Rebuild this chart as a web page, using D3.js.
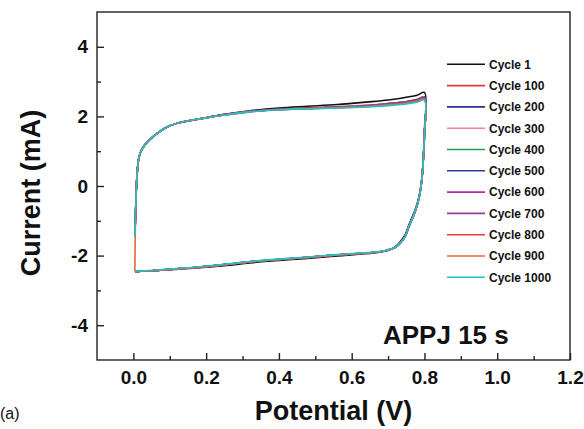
<!DOCTYPE html>
<html><head><meta charset="utf-8">
<script src="https://cdn.jsdelivr.net/npm/d3@7"></script>
<style>
body{margin:0;background:#fff}
svg{display:block}
text{font-family:"Liberation Sans",Arial,sans-serif}
</style>
</head><body>
<svg id="chart" width="584" height="429"></svg>
<script>
// Potential sweep (V), shared by all cycles
const potential = [0.004,0.006,0.008,0.011,0.014,0.019,0.026,0.036,0.050,0.070,0.100,0.140,0.183,
  0.250,0.320,0.400,0.480,0.560,0.640,0.700,0.750,0.780,0.800,
  0.800,0.797,0.793,0.787,0.780,0.772,0.765,0.756,0.747,0.735,0.720,0.700,
  0.678,0.620,0.550,0.480,0.400,0.320,0.250,0.183,0.110,0.060,0.020,0.005];

// Current (mA) per cycle
const cycle1    = [-1.45,-0.8,-0.1,0.45,0.75,0.95,1.1,1.24,1.38,1.55,1.73,1.85,1.93, 2.06,2.16,2.24,2.29,2.34,2.41,2.47,2.55,2.61,2.69, 1.6,0.85,0.25,-0.2,-0.5,-0.75,-0.92,-1.15,-1.4,-1.58,-1.74,-1.85, -1.9,-1.96,-2.02,-2.08,-2.14,-2.21,-2.29,-2.35,-2.4,-2.43,-2.45,-2.47];
const cycle100  = [-1.45,-0.8,-0.1,0.45,0.75,0.95,1.1,1.24,1.38,1.55,1.73,1.85,1.93, 2.05,2.15,2.21,2.25,2.28,2.32,2.37,2.43,2.49,2.56, 1.5,0.8,0.2,-0.25,-0.55,-0.8,-0.97,-1.2,-1.45,-1.62,-1.76,-1.84, -1.89,-1.94,-1.99,-2.05,-2.11,-2.18,-2.26,-2.33,-2.39,-2.43,-2.45,-2.46];
const cycle200  = [-1.45,-0.8,-0.1,0.45,0.75,0.95,1.1,1.24,1.38,1.55,1.73,1.85,1.93, 2.05,2.14,2.21,2.24,2.27,2.31,2.37,2.42,2.48,2.55, 1.5,0.8,0.2,-0.25,-0.55,-0.8,-0.97,-1.2,-1.45,-1.62,-1.76,-1.84, -1.89,-1.94,-1.99,-2.05,-2.11,-2.18,-2.26,-2.33,-2.39,-2.43,-2.45,-2.46];
const cycle300  = [-1.45,-0.8,-0.1,0.45,0.75,0.95,1.1,1.24,1.38,1.55,1.73,1.85,1.93, 2.05,2.14,2.20,2.24,2.27,2.31,2.36,2.42,2.47,2.54, 1.5,0.8,0.2,-0.25,-0.55,-0.8,-0.97,-1.2,-1.45,-1.62,-1.76,-1.84, -1.89,-1.94,-1.99,-2.05,-2.11,-2.18,-2.26,-2.33,-2.39,-2.43,-2.45,-2.46];
const cycle400  = [-1.45,-0.8,-0.1,0.45,0.75,0.95,1.1,1.24,1.38,1.55,1.73,1.85,1.93, 2.05,2.14,2.20,2.24,2.26,2.30,2.36,2.41,2.47,2.53, 1.5,0.8,0.2,-0.25,-0.55,-0.8,-0.97,-1.2,-1.45,-1.62,-1.76,-1.84, -1.89,-1.94,-1.99,-2.05,-2.11,-2.18,-2.26,-2.33,-2.39,-2.43,-2.45,-2.46];
const cycle500  = [-1.45,-0.8,-0.1,0.45,0.75,0.95,1.1,1.24,1.38,1.55,1.73,1.85,1.93, 2.05,2.14,2.20,2.23,2.26,2.30,2.35,2.41,2.46,2.52, 1.5,0.8,0.2,-0.25,-0.55,-0.8,-0.97,-1.2,-1.45,-1.62,-1.76,-1.84, -1.89,-1.94,-1.99,-2.05,-2.11,-2.18,-2.26,-2.33,-2.39,-2.43,-2.45,-2.46];
const cycle600  = [-1.45,-0.8,-0.1,0.45,0.75,0.95,1.1,1.24,1.38,1.55,1.73,1.85,1.93, 2.05,2.14,2.20,2.23,2.26,2.30,2.35,2.40,2.46,2.52, 1.5,0.8,0.2,-0.25,-0.55,-0.8,-0.97,-1.2,-1.45,-1.62,-1.76,-1.84, -1.89,-1.94,-1.99,-2.05,-2.11,-2.18,-2.26,-2.33,-2.39,-2.43,-2.45,-2.46];
const cycle700  = [-1.45,-0.8,-0.1,0.45,0.75,0.95,1.1,1.24,1.38,1.55,1.73,1.85,1.93, 2.04,2.14,2.20,2.23,2.25,2.29,2.34,2.40,2.45,2.51, 1.5,0.8,0.2,-0.25,-0.55,-0.8,-0.97,-1.2,-1.45,-1.62,-1.76,-1.84, -1.89,-1.94,-1.99,-2.05,-2.11,-2.18,-2.26,-2.33,-2.39,-2.43,-2.45,-2.46];
const cycle800  = [-1.45,-0.8,-0.1,0.45,0.75,0.95,1.1,1.24,1.38,1.55,1.73,1.85,1.93, 2.04,2.13,2.20,2.23,2.25,2.29,2.34,2.39,2.45,2.50, 1.5,0.8,0.2,-0.25,-0.55,-0.8,-0.97,-1.2,-1.45,-1.62,-1.76,-1.84, -1.89,-1.94,-1.99,-2.05,-2.11,-2.18,-2.26,-2.33,-2.39,-2.43,-2.45,-2.46];
const cycle900  = [-2.46,-0.8,-0.1,0.45,0.75,0.95,1.1,1.24,1.38,1.55,1.73,1.85,1.93, 2.04,2.13,2.19,2.22,2.25,2.28,2.33,2.38,2.43,2.49, 1.5,0.8,0.2,-0.25,-0.55,-0.8,-0.97,-1.2,-1.45,-1.62,-1.76,-1.84, -1.89,-1.94,-1.99,-2.05,-2.11,-2.18,-2.26,-2.33,-2.39,-2.43,-2.45,-2.46];
const cycle1000 = [-1.45,-0.8,-0.1,0.45,0.75,0.95,1.1,1.24,1.38,1.55,1.73,1.85,1.93, 2.04,2.13,2.19,2.22,2.24,2.27,2.31,2.36,2.41,2.47, 1.5,0.8,0.2,-0.25,-0.55,-0.8,-0.97,-1.2,-1.45,-1.62,-1.76,-1.84, -1.88,-1.93,-1.98,-2.04,-2.1,-2.17,-2.25,-2.32,-2.38,-2.42,-2.44,-2.46];

const cycleNames = ["Cycle 1","Cycle 100","Cycle 200","Cycle 300","Cycle 400","Cycle 500","Cycle 600","Cycle 700","Cycle 800","Cycle 900","Cycle 1000"];
const cycleColors = ["#111111","#e8393a","#2b2f8f","#f07cc0","#18a055","#2d3a9e","#b02ab0","#9b3a9e","#e63a3a","#e0693a","#1cc3c8"];
const cycleCurrents = [cycle1,cycle100,cycle200,cycle300,cycle400,cycle500,cycle600,cycle700,cycle800,cycle900,cycle1000];

const xMajorTicks = [0,0.2,0.4,0.6,0.8,1.0,1.2];
const xMinorTicks = [0.1,0.3,0.5,0.7,0.9,1.1];
const yMajorTicks = [-4,-2,0,2,4];
const yMinorTicks = [-3,-1,1,3];

const svg = d3.select("#chart");
const L = 97, R = 570, T = 12, B = 360;
const x = d3.scaleLinear().domain([-0.1,1.2]).range([L,R]);
const y = d3.scaleLinear().domain([-5,5]).range([B,T]);
const axisColor = "#222";

// curves
const line = d3.line().x(d => x(d[0])).y(d => y(d[1])).curve(d3.curveCatmullRom.alpha(0.5));
const series = cycleNames.map((n,i) => ({name:n, color:cycleColors[i],
  pts: potential.map((v,j) => [v, cycleCurrents[i][j]])}));
svg.append("g").selectAll("path").data(series).join("path")
  .attr("d", d => line(d.pts)).attr("fill","none")
  .attr("stroke", d => d.color).attr("stroke-width",1.6).attr("stroke-linejoin","round");

// frame
svg.append("rect").attr("x",L).attr("y",T).attr("width",R-L).attr("height",B-T)
  .attr("fill","none").attr("stroke",axisColor).attr("stroke-width",1.4);

function styleAxis(g){
  g.select(".domain").remove();
  g.selectAll("line").attr("stroke",axisColor).attr("stroke-width",1.4);
}
// x axis
const gx = svg.append("g").attr("transform",`translate(0,${B})`)
  .call(d3.axisBottom(x).tickValues(xMajorTicks).tickSize(-7).tickPadding(11).tickFormat(d3.format(".1f")));
styleAxis(gx);
gx.selectAll("text").attr("font-size",19).attr("font-weight","bold").attr("fill","#111")
  .attr("font-family",'"Liberation Sans",Arial,sans-serif');
const gxm = svg.append("g").attr("transform",`translate(0,${B})`)
  .call(d3.axisBottom(x).tickValues(xMinorTicks).tickSize(-4).tickFormat(""));
styleAxis(gxm);

// y axis
const gy = svg.append("g").attr("transform",`translate(${L},0)`)
  .call(d3.axisLeft(y).tickValues(yMajorTicks).tickSize(-7).tickPadding(9).tickFormat(d => String(d)));
styleAxis(gy);
gy.selectAll("text").attr("font-size",19).attr("font-weight","bold").attr("fill","#111")
  .attr("font-family",'"Liberation Sans",Arial,sans-serif');
const gym = svg.append("g").attr("transform",`translate(${L},0)`)
  .call(d3.axisLeft(y).tickValues(yMinorTicks).tickSize(-4).tickFormat(""));
styleAxis(gym);

// axis titles
svg.append("text").attr("x",(L+R)/2).attr("y",420).attr("text-anchor","middle")
  .attr("font-size",27).attr("font-weight","bold").attr("fill","#111").text("Potential (V)");
svg.append("text").attr("transform","translate(40,193) rotate(-90)").attr("text-anchor","middle")
  .attr("font-size",27).attr("font-weight","bold").attr("fill","#111").text("Current (mA)");

// legend
const lg = svg.append("g");
const rowY = i => 64.3 + i*21.3;
lg.selectAll("line").data(series).join("line")
  .attr("x1",447).attr("x2",485).attr("y1",(d,i)=>rowY(i)).attr("y2",(d,i)=>rowY(i))
  .attr("stroke",d=>d.color).attr("stroke-width",1.6);
lg.selectAll("text").data(series).join("text")
  .attr("x",489).attr("y",(d,i)=>rowY(i)+4.3).attr("font-size",12).attr("font-weight","bold")
  .attr("fill","#111").text(d=>d.name);

// annotation
svg.append("text").attr("x",383).attr("y",344).attr("font-size",26).attr("font-weight","bold")
  .attr("fill","#111").text("APPJ 15 s");
svg.append("text").attr("x",0).attr("y",419).attr("font-size",16)
  .attr("font-family",'"Open Sans",sans-serif').attr("fill","#111").text("(a)");
</script>
</body></html>
